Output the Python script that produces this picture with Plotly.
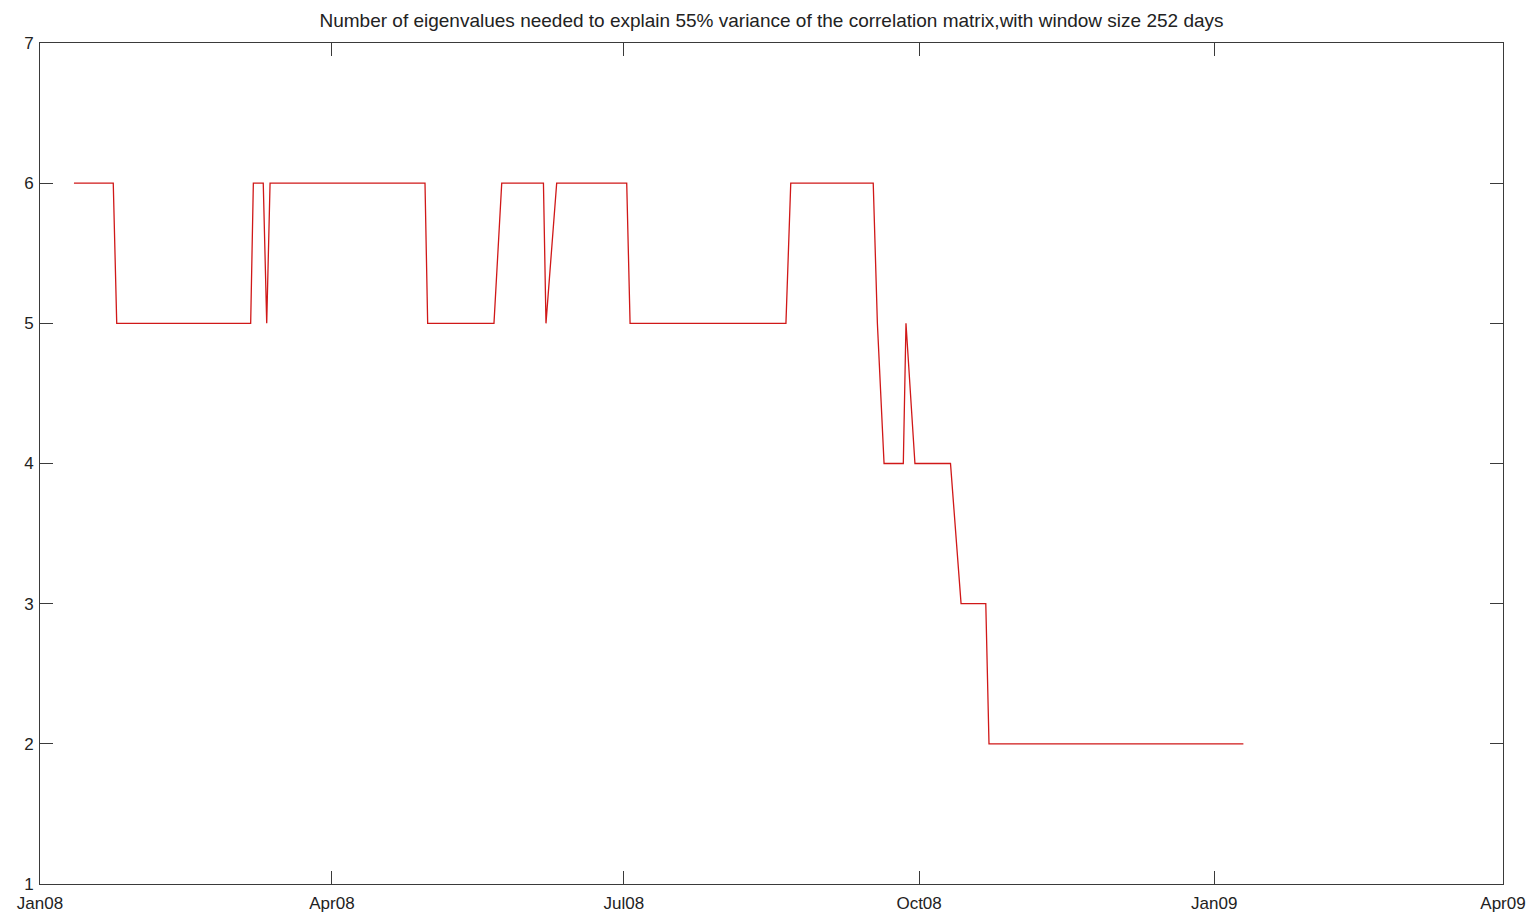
import plotly.graph_objects as go

# Vertices of the step series
dates = [
    "2008-01-11 14:00", "2008-01-23 20:00", "2008-01-24 22:00",
    "2008-03-06 16:00", "2008-03-07 12:00", "2008-03-10 14:00",
    "2008-03-11 16:00", "2008-03-12 17:00", "2008-04-30 00:00",
    "2008-04-30 20:00", "2008-05-21 12:00", "2008-05-23 22:00",
    "2008-06-05 22:00", "2008-06-06 17:00", "2008-06-10 01:00",
    "2008-07-01 21:00", "2008-07-02 22:00", "2008-08-20 12:00",
    "2008-08-22 00:00", "2008-09-16 17:00", "2008-09-18 00:00",
    "2008-09-20 02:00", "2008-09-26 02:00", "2008-09-26 22:00",
    "2008-09-29 17:00", "2008-10-10 19:00", "2008-10-14 02:00",
    "2008-10-21 19:00", "2008-10-22 19:00", "2009-01-10 02:00",
]
n_eigen = [
    6, 6, 5,
    5, 6, 6,
    5, 6, 6,
    5, 5, 6,
    6, 5, 6,
    6, 5, 5,
    6, 6, 5,
    4, 4, 5,
    4, 4, 3,
    3, 2, 2,
]

x_tick_vals = ["2008-01-01", "2008-04-01", "2008-07-01", "2008-10-01", "2009-01-01", "2009-04-01"]
x_tick_text = ["Jan08", "Apr08", "Jul08", "Oct08", "Jan09", "Apr09"]
y_ticks = [1, 2, 3, 4, 5, 6, 7]

title_text = "Number of eigenvalues needed to explain 55% variance of the correlation matrix,with window size 252 days"

FONT = "Liberation Sans, Arial, sans-serif"

fig = go.Figure()
fig.add_trace(go.Scatter(
    x=dates, y=n_eigen, mode="lines",
    line=dict(color="#d01818", width=1.3),
    showlegend=False, hoverinfo="x+y",
))

axis_common = dict(
    showline=True, linecolor="#3a3a3a", linewidth=1,
    mirror="allticks", ticks="inside", ticklen=13, tickwidth=1, tickcolor="#3a3a3a",
    showgrid=False, zeroline=False, automargin=False,
    tickfont=dict(family=FONT, size=17, color="#222222"),
)

fig.update_layout(
    width=1532, height=915,
    margin=dict(l=40, r=29, t=43, b=31),
    paper_bgcolor="white", plot_bgcolor="white",
    title=dict(text=title_text, x=0.5, xanchor="center", xref="paper",
               y=1 - 20 / 915, yanchor="middle", yref="container",
               font=dict(family=FONT, size=19, color="#222222")),
    xaxis=dict(type="date", range=["2008-01-01", "2009-04-01"],
               tickmode="array", tickvals=x_tick_vals, ticktext=x_tick_text,
               ticklabelstandoff=4, **axis_common),
    yaxis=dict(range=[1, 7], tickmode="array", tickvals=y_ticks,
               ticktext=[str(v) for v in y_ticks], ticklabelstandoff=2, **axis_common),
)

fig.write_html("out.html")
